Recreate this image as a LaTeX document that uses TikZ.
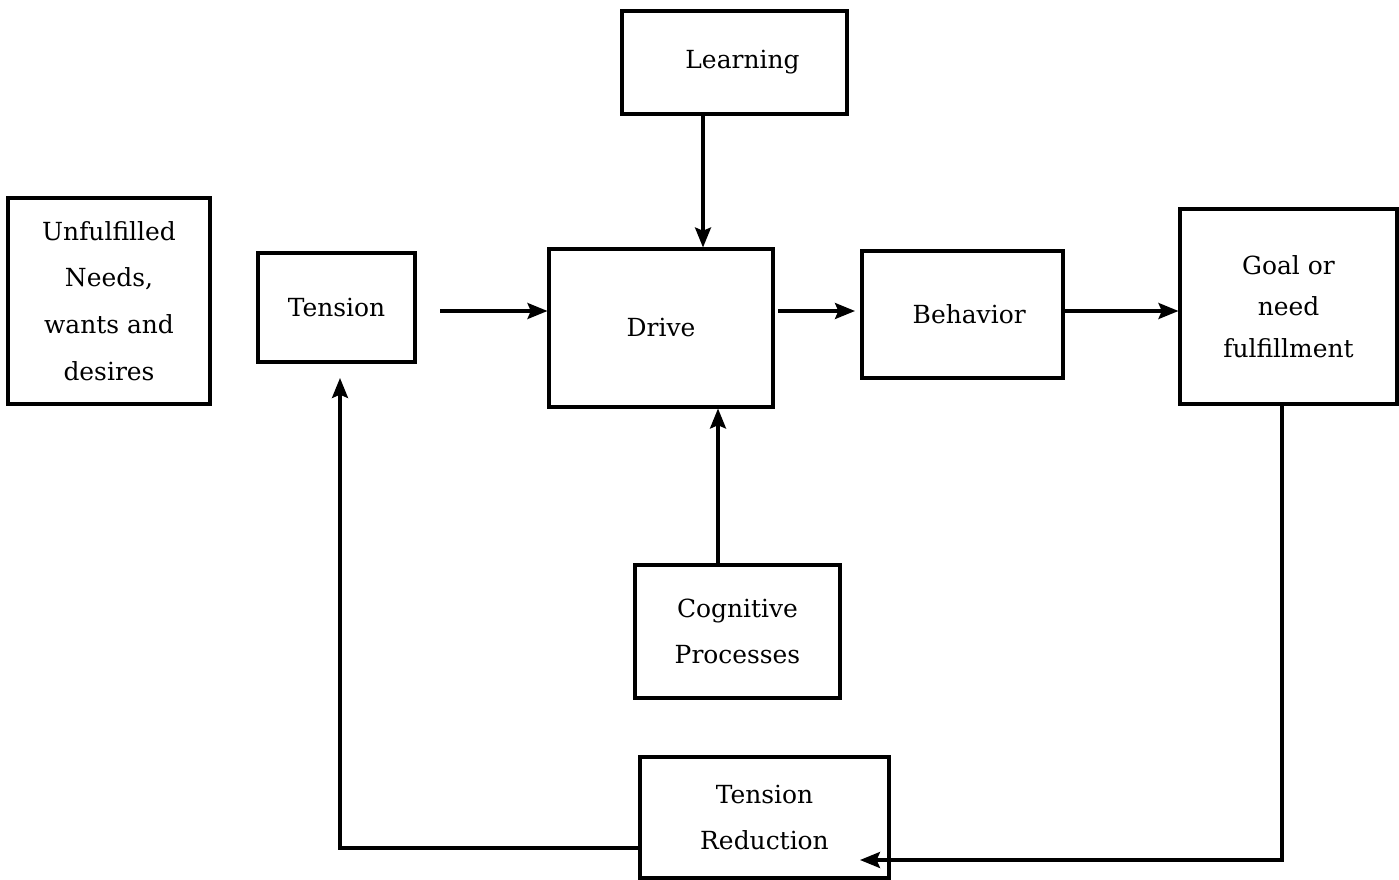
\documentclass[tikz,border=0pt]{standalone}
\usepackage{fontspec}
\setmainfont{DejaVu Serif}
\usetikzlibrary{arrows.meta}
\begin{document}
\begin{tikzpicture}[x=0.75pt,y=-0.75pt,
  box/.style={draw,line width=2.3pt,inner sep=0pt,align=center,
    font=\fontsize{18.7}{35}\selectfont},
  arr/.style={line width=2.3pt,-{Stealth[length=15pt,width=12pt,inset=2.5pt]}}]
\useasboundingbox (0,0) rectangle (1399,880);

% boxes
\node[box,minimum width=151.5pt,minimum height=154.5pt] (need) at (109,301)
  {Unfulfilled\\Needs,\\wants and\\desires};
\node[box,minimum width=117.75pt,minimum height=81.75pt] (tension) at (336.5,307.5)
  {Tension};
\node[box,minimum width=168.75pt,minimum height=77.25pt] (learning) at (734.5,62.5)
  {\hspace*{12pt}Learning};
\node[box,minimum width=168pt,minimum height=118.5pt] (drive) at (661,328)
  {Drive};
\node[box,minimum width=150.75pt,minimum height=95.25pt] (behavior) at (962.5,314.5)
  {\hspace*{10pt}Behavior};
\node[box,minimum width=162.75pt,minimum height=146.25pt,
  font=\fontsize{18.7}{31}\selectfont] (goal) at (1288.5,306.5)
  {Goal or\\need\\fulfillment};
\node[box,minimum width=153.75pt,minimum height=99.75pt] (cog) at (737.5,631.5)
  {Cognitive\\Processes};
\node[box,minimum width=186.75pt,minimum height=90.75pt] (reduce) at (764.5,817.5)
  {Tension\\Reduction};

% connector end points
\coordinate (tstart) at (440,311);
\coordinate (dstart) at (778,311);
\coordinate (dend) at (855,311);
\coordinate (lx) at (703,0);
\coordinate (cx) at (718,0);
\coordinate (gx) at (1282,0);
\coordinate (gcorner) at (1282,860);
\coordinate (rend) at (860,860);
\coordinate (rstart) at (640,848);
\coordinate (tcorner) at (340,848);
\coordinate (tend) at (340,378);

% forward flow
\draw[arr] (tstart) -- (tstart -| drive.west);
\draw[arr] (dstart) -- (dend);
\draw[arr] (behavior.east |- tstart) -- (goal.west |- tstart);
\draw[arr] (lx |- learning.south) -- (lx |- drive.north);
\draw[arr] (cx |- cog.north) -- (cx |- drive.south);

% feedback loop
\draw[arr] (gx |- goal.south) -- (gcorner) -- (rend);
\draw[arr] (rstart) -- (tcorner) -- (tend);
\end{tikzpicture}
\end{document}
